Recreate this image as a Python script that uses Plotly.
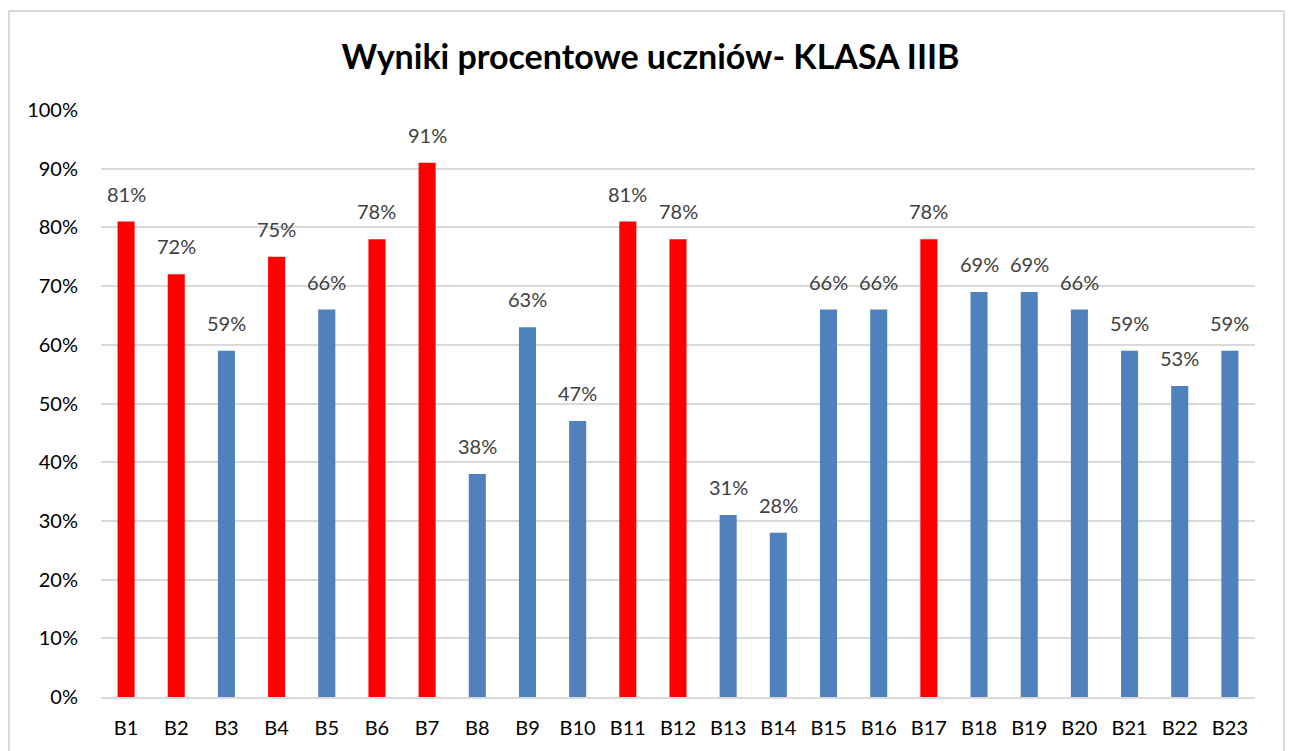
import plotly.graph_objects as go

students = ["B%d" % i for i in range(1, 24)]
scores = [81, 72, 59, 75, 66, 78, 91, 38, 63, 47, 81, 78, 31, 28, 66, 66, 78, 69, 69, 66, 59, 53, 59]
highlighted = ["B1", "B2", "B4", "B6", "B7", "B11", "B12", "B17"]

RED = "#FF0000"
BLUE = "#4F81BD"
FONT = "Lato"

colors = [RED if s in highlighted else BLUE for s in students]

fig = go.Figure()
fig.add_trace(go.Bar(x=students,
                     y=scores,
                     marker=dict(color=colors, line=dict(width=0)),
                     hoverinfo="x+y"))

# data labels above each bar
for s, v in zip(students, scores):
    fig.add_annotation(x=s, y=v, text="%d%%" % v,
                       showarrow=False, yanchor="bottom", yshift=14,
                       font=dict(family=FONT, size=20, color="#404040"))

# chart border (left, top, right)
border = dict(color="#D9D9D9", width=2)
fig.add_shape(type="line", xref="paper", yref="paper", x0=-0.0798, x1=-0.0798, y0=-0.12, y1=1.1687, line=border)
fig.add_shape(type="line", xref="paper", yref="paper", x0=-0.0798, x1=1.0251, y0=1.1687, y1=1.1687, line=border)
fig.add_shape(type="line", xref="paper", yref="paper", x0=1.0251, x1=1.0251, y0=-0.12, y1=1.1687, line=border)

fig.update_layout(
    width=1285, height=743,
    margin=dict(l=93, r=38, t=102, b=54),
    paper_bgcolor="white", plot_bgcolor="white",
    title=dict(text="<b>Wyniki procentowe uczniów- KLASA IIIB</b>",
               x=0.5, xanchor="center", y=0.934, yanchor="middle",
               font=dict(family=FONT, size=34, color="black")),
    bargap=0.66,
    showlegend=False,
    font=dict(family=FONT, size=20, color="black"),
)
fig.update_xaxes(showline=True, linecolor="#D9D9D9", linewidth=2,
                 ticks="outside", ticklen=12, tickcolor="white",
                 tickfont=dict(size=20, color="black"))
fig.update_yaxes(range=[0, 100], dtick=10, ticksuffix="%", showgrid=True,
                 gridcolor="#D9D9D9", gridwidth=2, zeroline=False,
                 ticks="outside", ticklen=18, tickcolor="white",
                 tickfont=dict(size=20, color="black"))

fig.write_html("out.html")
